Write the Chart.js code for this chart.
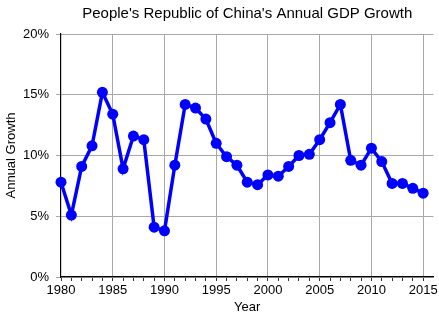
<!DOCTYPE html>
<html>
<head>
<meta charset="utf-8">
<script src="https://cdn.jsdelivr.net/npm/chart.js@4/dist/chart.umd.min.js"></script>
<style>
html,body{margin:0;padding:0;background:#fff;}
#wrap{width:439px;height:315px;position:relative;}
</style>
</head>
<body>
<div id="wrap"><canvas id="c" width="439" height="315"></canvas></div>
<script>
const years = [1980,1981,1982,1983,1984,1985,1986,1987,1988,1989,1990,1991,1992,1993,1994,1995,1996,1997,1998,1999,2000,2001,2002,2003,2004,2005,2006,2007,2008,2009,2010,2011,2012,2013,2014,2015];
const growth = [7.8,5.1,9.1,10.8,15.2,13.4,8.9,11.6,11.3,4.1,3.8,9.2,14.2,13.9,13.0,11.0,9.9,9.2,7.8,7.6,8.4,8.3,9.1,10.0,10.1,11.3,12.7,14.2,9.6,9.2,10.6,9.5,7.7,7.7,7.3,6.9];
const yTicks = [0,5,10,15,20];
const titleText = "People's Republic of China's Annual GDP Growth";
const xTitle = "Year";
const yTitle = "Annual Growth";

const FONT = "'Liberation Sans', Arial, sans-serif";
const GRID = '#a8a8a8';

new Chart(document.getElementById('c'), {
  type: 'line',
  data: {
    datasets: [{
      data: years.map((y,i)=>({x:y, y:growth[i]})),
      borderColor: '#0000ff',
      backgroundColor: '#0000ff',
      borderWidth: 3.5,
      pointRadius: 5.5,
      pointBorderWidth: 0,
      tension: 0,
      clip: false
    }]
  },
  options: {
    responsive: false,
    animation: false,
    devicePixelRatio: 1,
    layout: { padding: { left: 0, right: 5, top: 0, bottom: 0 } },
    plugins: {
      legend: { display: false },
      tooltip: { enabled: false },
      title: {
        display: true,
        text: titleText,
        fullSize: false,
        color: '#000',
        font: { family: FONT, size: 15, weight: 'normal' },
        padding: { top: 5, bottom: 11 }
      }
    },
    scales: {
      x: {
        type: 'linear',
        min: 1980,
        max: 2016,
        afterFit: s => { s.height = 38; },
        border: { color: '#000', width: 1.2 },
        grid: {
          color: ctx => (ctx.tick && ctx.tick.value % 5 === 0 && ctx.tick.value !== 1980) ? GRID : 'rgba(0,0,0,0)',
          tickColor: ctx => (ctx.tick && ctx.tick.value === 2016) ? 'rgba(0,0,0,0)' : '#333',
          tickLength: 4,
          lineWidth: 1
        },
        ticks: {
          stepSize: 1,
          autoSkip: false,
          maxRotation: 0,
          padding: 2,
          color: '#000',
          font: { family: FONT, size: 13 },
          callback: v => (v % 5 === 0 && v <= 2015) ? String(v) : ''
        },
        title: {
          display: true,
          text: xTitle,
          color: '#000',
          font: { family: FONT, size: 13 },
          padding: { top: 0, bottom: 0 }
        }
      },
      y: {
        min: 0,
        max: 20,
        afterFit: s => { s.width = 61; },
        border: { color: '#000', width: 1.2 },
        grid: {
          color: GRID,
          tickColor: GRID,
          tickLength: 5,
          lineWidth: 1
        },
        afterBuildTicks: s => { s.ticks = yTicks.map(v => ({value: v})); },
        ticks: {
          padding: 7,
          color: '#000',
          font: { family: FONT, size: 13 },
          callback: v => v + '%'
        },
        title: {
          display: true,
          text: yTitle,
          color: '#000',
          font: { family: FONT, size: 13 },
          padding: { top: 4, bottom: 0 }
        }
      }
    }
  }
});
</script>
</body>
</html>
